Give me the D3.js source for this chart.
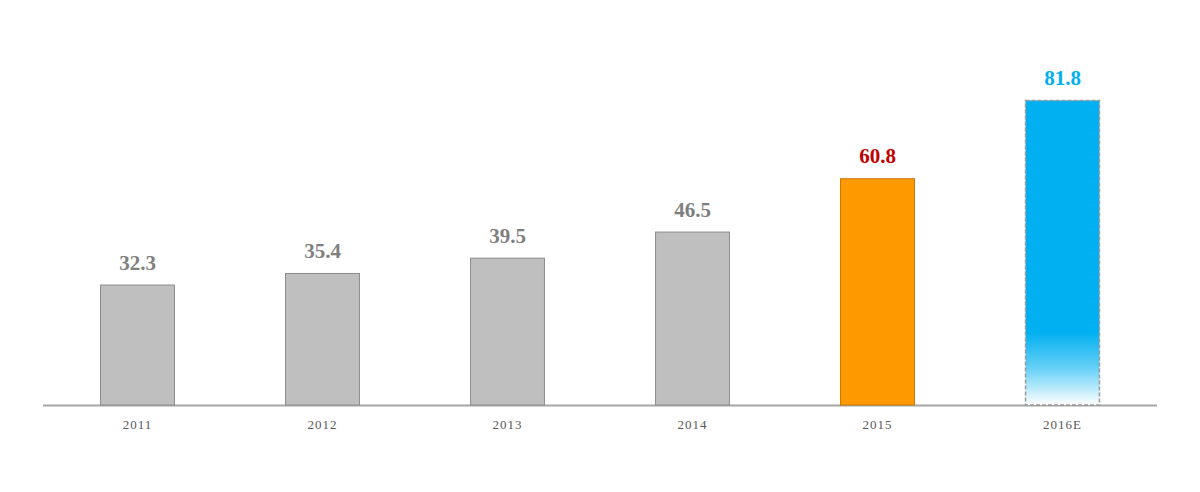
<!DOCTYPE html>
<html><head><meta charset="utf-8">
<script src="https://cdn.jsdelivr.net/npm/d3@7"></script>
<style>body{margin:0;background:#fff}</style>
</head><body>
<svg id="chart" width="1200" height="492"></svg>
<script>
const categories = ["2011","2012","2013","2014","2015","2016E"];
const values = [32.3, 35.4, 39.5, 46.5, 60.8, 81.8];
const fills = ["#bfbfbf","#bfbfbf","#bfbfbf","#bfbfbf","#ff9900","url(#blueGrad)"];
const strokes = ["#8c8c8c","#8c8c8c","#8c8c8c","#8c8c8c","#c77700","#9a9a9a"];
const labelColors = ["#7f7f7f","#7f7f7f","#7f7f7f","#7f7f7f","#c00000","#00b0f0"];

const svg = d3.select("#chart");
const defs = svg.append("defs");
const g = defs.append("linearGradient").attr("id","blueGrad").attr("x1",0).attr("y1",0).attr("x2",0).attr("y2",1);
g.append("stop").attr("offset","0%").attr("stop-color","#00b0f0");
g.append("stop").attr("offset","76%").attr("stop-color","#00b0f0");
g.append("stop").attr("offset","88%").attr("stop-color","#66d0f6");
g.append("stop").attr("offset","100%").attr("stop-color","#ffffff");

const x = d3.scaleBand().domain(categories).range([45,1155]).paddingInner(0.595).paddingOuter(0.2975);
const y = d3.scaleLinear().domain([0,100]).range([405,32]);

svg.append("line").attr("x1",43).attr("x2",1157).attr("y1",405.5).attr("y2",405.5)
  .attr("stroke","#a6a6a6").attr("stroke-width",2);

svg.selectAll("rect.bar").data(values).enter().append("rect").attr("class","bar")
  .attr("x",(d,i)=>x(categories[i])+0.5)
  .attr("width",x.bandwidth()-1)
  .attr("y",d=>y(d)+0.5)
  .attr("height",d=>y(0)-y(d)-0.5)
  .attr("fill",(d,i)=>fills[i])
  .attr("stroke",(d,i)=>strokes[i])
  .attr("stroke-width",(d,i)=>i===5?1.5:1)
  .attr("stroke-dasharray",(d,i)=>i===5?"4,2":null);

svg.selectAll("text.val").data(values).enter().append("text").attr("class","val")
  .attr("x",(d,i)=>x(categories[i])+x.bandwidth()/2)
  .attr("y",d=>y(d)-15)
  .attr("text-anchor","middle")
  .attr("font-family","'Liberation Serif','Times New Roman',serif")
  .attr("font-weight","bold").attr("font-size",21)
  .attr("fill",(d,i)=>labelColors[i])
  .text(d=>d.toFixed(1));

svg.selectAll("text.cat").data(categories).enter().append("text").attr("class","cat")
  .attr("x",d=>x(d)+x.bandwidth()/2)
  .attr("y",429)
  .attr("text-anchor","middle")
  .attr("font-family","'Liberation Serif','Times New Roman',serif")
  .attr("font-size",13).attr("letter-spacing",1)
  .attr("fill","#595959")
  .text(d=>d);
</script>
</body></html>
